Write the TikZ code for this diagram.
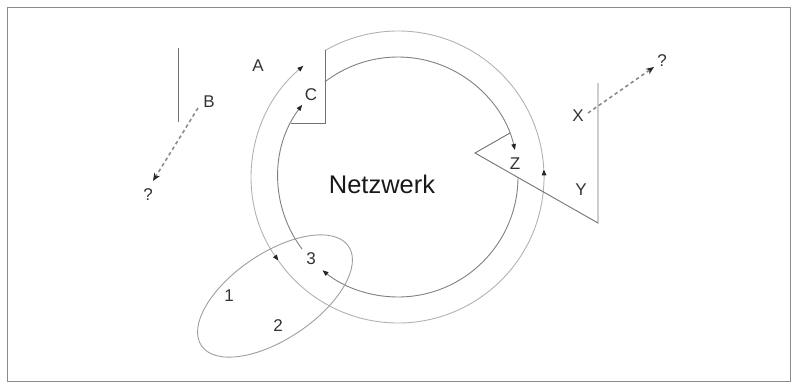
\documentclass[tikz,border=0pt]{standalone}
\usepackage{fontspec}
\setmainfont{Liberation Sans}
\usetikzlibrary{arrows.meta,calc}
\begin{document}
\begin{tikzpicture}[x=1pt,y=-1pt,
  lab/.style={font=\fontsize{17}{17}\selectfont, text=black!80, inner sep=0pt},
  big/.style={font=\fontsize{25.5}{26}\selectfont, text=black!90, inner sep=0pt},
  ring/.style={draw=black!50, line width=0.9pt},
  outerring/.style={draw=black!30, line width=0.9pt},
  tip/.style={-{Triangle[length=6pt,width=4.5pt,color=black!85]}},
  bothtips/.style={{Triangle[length=6pt,width=4.5pt,color=black!85]}-{Triangle[length=6pt,width=4.5pt,color=black!85]}},
  bracket/.style={draw=black!55, line width=0.9pt},
  dasharrow/.style={draw=black!45, line width=1.6pt, dash pattern=on 3.5pt off 3pt, -{Stealth[length=8pt,width=6.5pt,color=black!85]}},
  set/.style={draw=black!38, line width=0.9pt},
]
\useasboundingbox (0,0) rectangle (796,383);
\draw[black!45, line width=0.8pt] (7,7) rectangle (790,381);

\coordinate (O) at (398,177);

% labels
\node[big] (net) at (382,184) {Netzwerk};
\node[lab] (A) at (258,66) {A};
\node[lab] (B) at (209,102) {B};
\node[lab] (C) at (311,95) {C};
\node[lab] (X) at (578,116) {X};
\node[lab] (Y) at (581,190) {Y};
\node[lab] (Z) at (515,164) {Z};
\node[lab] (q1) at (148,195) {?};
\node[lab] (q2) at (662,61) {?};
\node[lab] (n1) at (229,296) {1};
\node[lab] (n2) at (278,326) {2};
\node[lab] (n3) at (311,259) {3};

% outer ring
\draw[outerring,tip] ($(O)+(5.9:146)$) arc[start angle=5.9, end angle=-3, radius=146];
\draw[outerring] ($(O)+(-3:146)$) arc[start angle=-3, end angle=-120, radius=146];
\draw[outerring] ($(O)+(5.9:146)$) arc[start angle=5.9, end angle=145, radius=146];
\draw[outerring,bothtips] ($(O)+(145:146)$) arc[start angle=145, end angle=229.6, radius=146];

% inner ring
\draw[ring,tip] ($(O)+(-127.5:120)$) arc[start angle=-127.5, end angle=-13, radius=120];
\draw[ring,tip] ($(O)+(0:120)$) arc[start angle=0, end angle=129, radius=120];
\draw[ring,tip] ($(O)+(143:120)$) arc[start angle=143, end angle=217, radius=120];

% C bracket
\coordinate (c1) at (325,50);
\coordinate (c2) at (325,123);
\coordinate (c3) at (291,123);
\draw[bracket] (c1) -- (c2) -- (c3);

% Z / Y bracket
\coordinate (z1) at (510,133);
\coordinate (z2) at (475,153);
\coordinate (y1) at (598,223);
\coordinate (y2) at (598,83);
\draw[bracket] (z1) -- (z2) -- (y1) -- (y2);

% B line
\coordinate (b1) at (178,48);
\coordinate (b2) at (178,122);
\draw[bracket] (b1) -- (b2);

% dashed arrows
\coordinate (bs) at (198,108);
\coordinate (be) at (153,181);
\draw[dasharrow] (bs) -- (be);
\coordinate (xs) at (588,113);
\coordinate (xe) at (654,67);
\draw[dasharrow] (xs) -- (xe);

% anonymity set
\draw[set, rotate around={34:(275,296)}] (275,296) ellipse [x radius=88.8, y radius=43];
\end{tikzpicture}
\end{document}
